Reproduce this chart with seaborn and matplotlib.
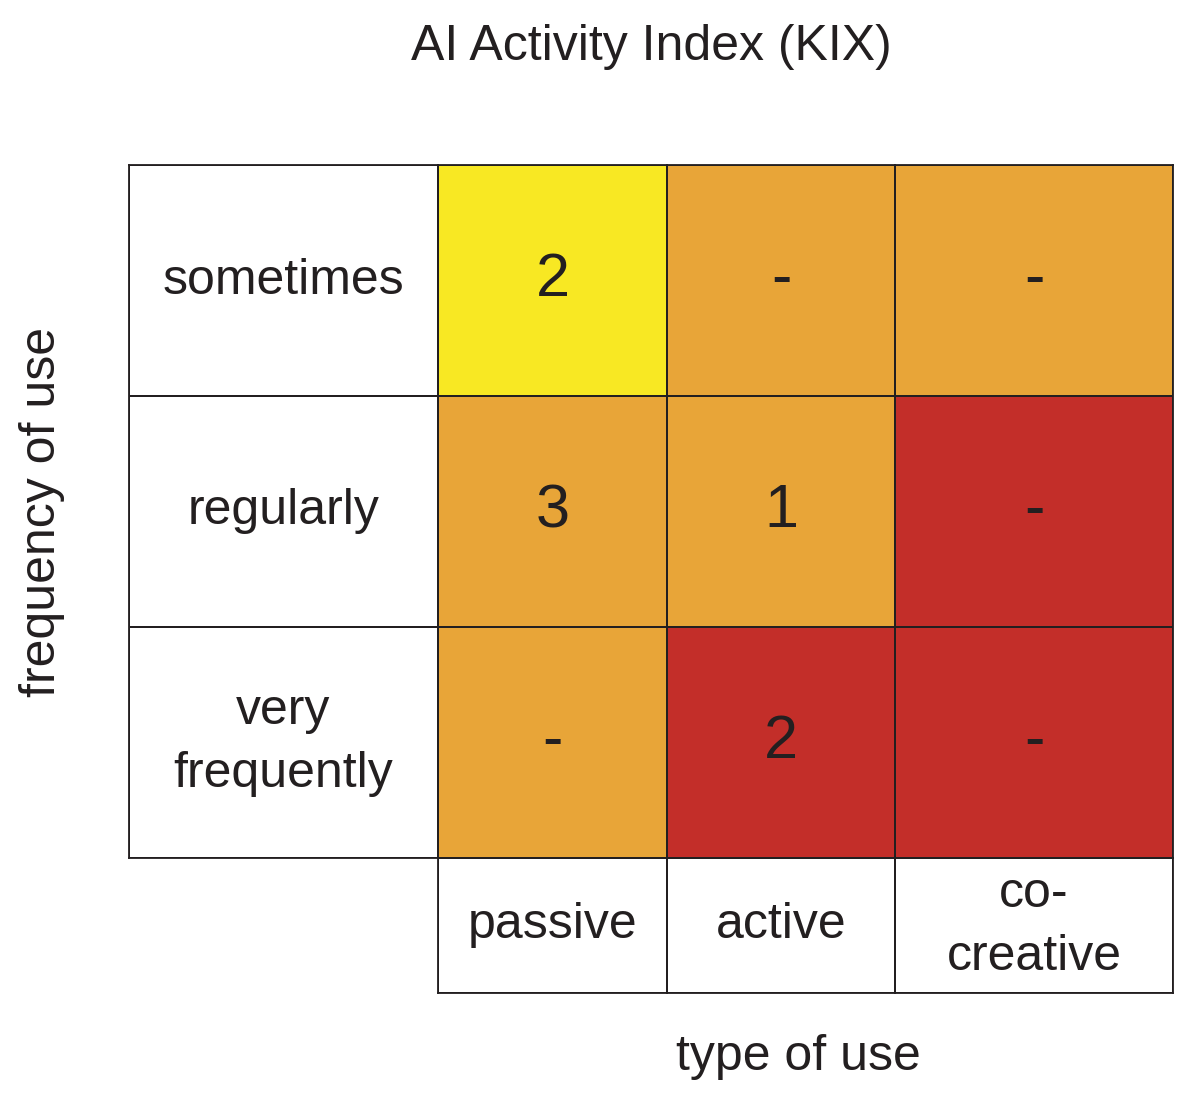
import numpy as np
import pandas as pd
import seaborn as sns
import matplotlib.pyplot as plt
from matplotlib.colors import ListedColormap

# chart content
title = "AI Activity Index (KIX)"
x_title = "type of use"
y_title = "frequency of use"
freq_labels = ["sometimes", "regularly", "very\nfrequently"]
type_labels = ["passive", "active", "co-\ncreative"]

# colour level per cell (0 = yellow, 1 = orange, 2 = red), rows top to bottom
level_passive = [0, 1, 1]
level_active = [1, 1, 2]
level_cocreative = [1, 2, 2]

# number shown in each cell, "-" = none
count_passive = ["2", "3", "-"]
count_active = ["-", "1", "2"]
count_cocreative = ["-", "-", "-"]

levels = [level_passive, level_active, level_cocreative]
counts = [count_passive, count_active, count_cocreative]

ink = "#231F20"
cmap = ListedColormap(["#F8E823", "#E8A538", "#C32E29"])
white = ListedColormap(["white"])

sns.set_theme(style="white")
plt.rcParams["font.family"] = ["Liberation Sans", "DejaVu Sans"]

W, H = 1200, 1106
fig = plt.figure(figsize=(W / 100, H / 100), dpi=100)

# grid geometry in pixels
label_x0 = 129
col_edges = [438, 667, 895, 1173]
grid_top, grid_bot, foot_bot = 165, 858, 993
lw = 1.3
text_kw = dict(size=36, color=ink, linespacing=1.48)


def px_axes(x0, y0, x1, y1):
    return fig.add_axes([x0 / W, (H - y1) / H, (x1 - x0) / W, (y1 - y0) / H])


def boxed(ax):
    for s in ax.spines.values():
        s.set_visible(True)
        s.set_color(ink)
        s.set_linewidth(lw)


# row labels
ax = px_axes(label_x0, grid_top, col_edges[0], grid_bot)
sns.heatmap(pd.DataFrame({"f": [0, 0, 0]}, index=freq_labels), ax=ax, cmap=white,
            annot=np.array(freq_labels).reshape(-1, 1), fmt="", cbar=False,
            annot_kws=text_kw, linewidths=lw, linecolor=ink,
            xticklabels=False, yticklabels=False)
boxed(ax)

# data columns + their labels underneath
for j, name in enumerate(type_labels):
    x0, x1 = col_edges[j], col_edges[j + 1]
    ax = px_axes(x0, grid_top, x1, grid_bot)
    df = pd.DataFrame({name: levels[j]}, index=freq_labels)
    sns.heatmap(df, ax=ax, cmap=cmap, vmin=-0.5, vmax=2.5,
                annot=np.array(counts[j]).reshape(-1, 1), fmt="", cbar=False,
                annot_kws=dict(size=44, color=ink), linewidths=lw, linecolor=ink,
                xticklabels=False, yticklabels=False)
    boxed(ax)

    axf = px_axes(x0, grid_bot, x1, foot_bot)
    sns.heatmap(pd.DataFrame({name: [0]}), ax=axf, cmap=white,
                annot=np.array([[name]]), fmt="", cbar=False,
                annot_kws=text_kw, linewidths=lw, linecolor=ink,
                xticklabels=False, yticklabels=False)
    boxed(axf)

fig.text(651 / W, 1 - 47 / H, title, ha="center", va="center", fontsize=36, color=ink)
fig.text(798 / W, 1 - 1057 / H, x_title, ha="center", va="center", fontsize=36, color=ink)
fig.text(42 / W, 1 - 512 / H, y_title, ha="center", va="center", rotation=90,
         fontsize=36, color=ink)

fig.savefig("out.png", dpi=100)
